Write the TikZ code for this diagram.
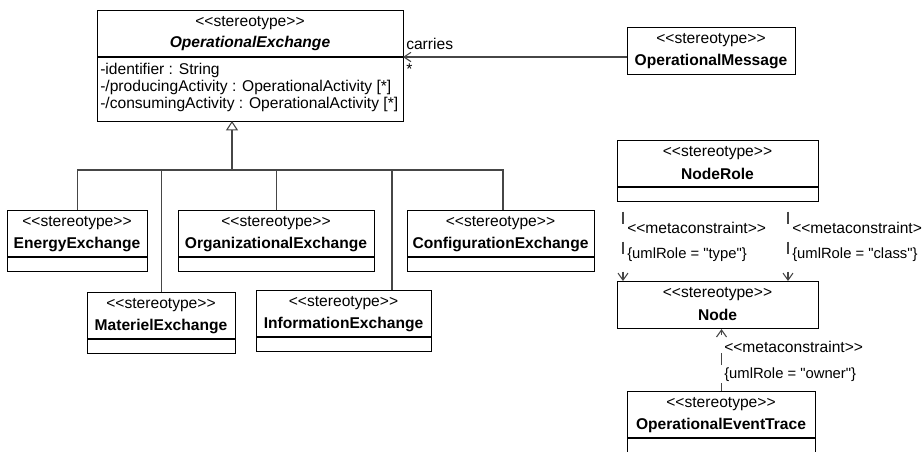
\documentclass[tikz,border=0pt]{standalone}
\usepackage{fontspec}
\setmainfont{Liberation Sans}[Ligatures=TeXOff]
\usepackage{tikz}
\usetikzlibrary{arrows.meta}
\tikzset{>=Stealth}
\definecolor{linegray}{RGB}{70,70,70}
\newcommand{\umlsize}{\fontsize{11.7}{14}\selectfont}

\begin{document}
\begin{tikzpicture}[x=0.75pt, y=-0.75pt, font=\umlsize,
    classbox/.style={draw=black, line width=0.8pt, fill=white, anchor=north west, inner sep=0pt},
    stereolabel/.style={inner sep=0pt},
    namelabel/.style={inner sep=0pt, font=\umlsize\bfseries},
    sidelabel/.style={inner sep=0pt, anchor=west},
    rolelabel/.style={sidelabel, font=\fontsize{11.1}{13}\selectfont},
    conn/.style={draw=linegray, line width=0.8pt},
    genline/.style={conn, -{Triangle[open, length=7pt, width=9pt]}},
    assocline/.style={conn, -{Straight Barb[length=5.25pt, width=7pt]}},
    depline/.style={conn, dash pattern=on 9pt off 13.5pt, -{Straight Barb[length=5.25pt, width=7.5pt]}}]

    % Canvas
    \fill[white] (0,0) rectangle (922,451);
    \useasboundingbox (0,0) rectangle (922,451);

    % Abstract exchange with attributes
    \node[classbox, minimum width=306*0.75pt, minimum height=111*0.75pt] (opexchange) at (97,10) {};
    \node[stereolabel] (opexstereo) at (250,23) {<{}<stereotype>{}>};
    \node[namelabel, font=\umlsize\bfseries\itshape] (opexname) at (250,43) {OperationalExchange};
    \draw[line width=0.8pt] (97,57) -- (403,57);
    \node[sidelabel] (opexattr1) at (100,70) {-identifier : String};
    \node[sidelabel] (opexattr2) at (100,87) {-/producingActivity : OperationalActivity [*]};
    \node[sidelabel] (opexattr3) at (100,104) {-/consumingActivity : OperationalActivity [*]};

    % Boxes with an empty compartment
    \foreach \nm/\xa/\xb/\ya/\ttl in {energy/7/147/210/EnergyExchange,
        organizational/178/374/210/OrganizationalExchange,
        configuration/407/594/210/ConfigurationExchange,
        materiel/87/235/292/MaterielExchange,
        information/256/431/290/InformationExchange,
        noderole/617/818/140/NodeRole,
        eventtrace/627/815/391/OperationalEventTrace} {
        \node[classbox, minimum width={(\xb-\xa)*0.75pt}, minimum height=60.5*0.75pt] (\nm) at (\xa,\ya) {};
        \node[stereolabel] (\nm-st) at ({(\xa+\xb)/2},\ya+13) {<{}<stereotype>{}>};
        \node[namelabel] (\nm-nm) at ({(\xa+\xb)/2},\ya+34) {\ttl};
        \draw[line width=0.8pt] (\xa,\ya+47) -- (\xb,\ya+47);
    }

    % Boxes with the name only
    \foreach \nm/\xa/\xb/\ya/\ttl in {message/627/795/27/OperationalMessage,
        node/617/818/281/Node} {
        \node[classbox, minimum width={(\xb-\xa)*0.75pt}, minimum height=47*0.75pt] (\nm) at (\xa,\ya) {};
        \node[stereolabel] (\nm-st) at ({(\xa+\xb)/2},\ya+13) {<{}<stereotype>{}>};
        \node[namelabel] (\nm-nm) at ({(\xa+\xb)/2},\ya+34) {\ttl};
    }

    % Generalization tree
    \coordinate (gentip) at (232,121);
    \coordinate (genbus) at (232,170);
    \draw[genline] (genbus) -- (gentip);
    \draw[conn] (energy.north) |- (genbus);
    \draw[conn] (materiel.north) |- (genbus);
    \draw[conn] (organizational.north) |- (genbus);
    \draw[conn] (information.north west) ++(136,0) |- (genbus);
    \draw[conn] (configuration.north west) ++(96,0) |- (genbus);

    % carries association
    \coordinate (opexdiv) at (403,57);
    \draw[assocline] (message.west |- opexdiv) -- (opexdiv);
    \node[sidelabel] (carrieslabel) at (406,44) {carries};
    \node[inner sep=0pt, anchor=north west] (carriesmult) at (406,63) {*};

    % metaconstraints
    \draw[depline, dash phase=15pt] (noderole.south west) ++(6,0) coordinate (deptype) -- (deptype |- node.north);
    \draw[depline, dash phase=15pt] (noderole.south west) ++(171,0) coordinate (depclass) -- (depclass |- node.north);
    \draw[depline, dash phase=3pt] (eventtrace.north) -- (eventtrace.north |- node.south);
    \node[sidelabel] (typestereo) at (627,228) {<{}<metaconstraint>{}>};
    \node[rolelabel] (typerole) at (627,255) {\{umlRole = "type"\}};
    \node[sidelabel] (classstereo) at (792,228) {<{}<metaconstraint>{}>};
    \node[rolelabel] (classrole) at (792,255) {\{umlRole = "class"\}};
    \node[sidelabel] (ownerstereo) at (724,347) {<{}<metaconstraint>{}>};
    \node[rolelabel] (ownerrole) at (724,375) {\{umlRole = "owner"\}};

\end{tikzpicture}
\end{document}
